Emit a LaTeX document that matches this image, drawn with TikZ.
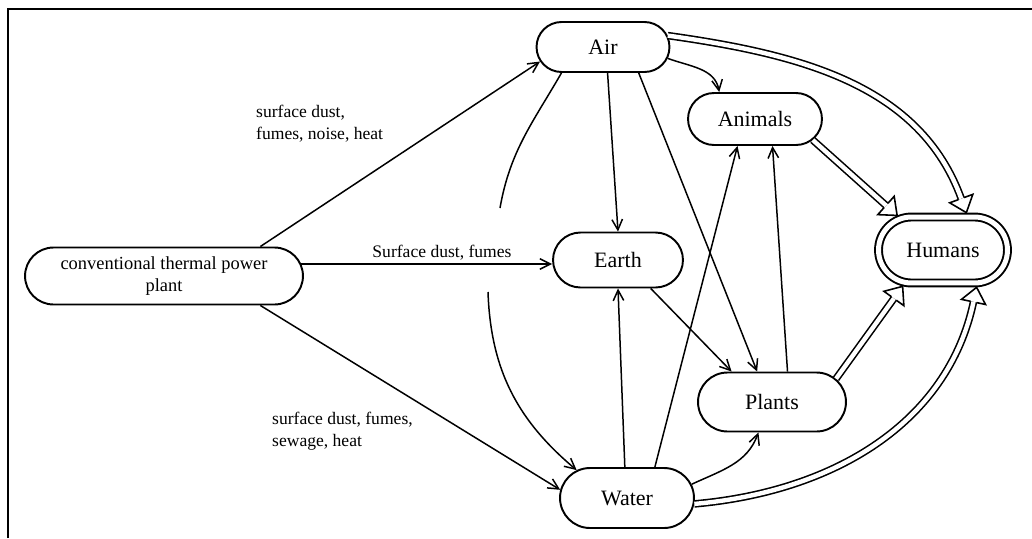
\documentclass[tikz,border=0pt]{standalone}
\usepackage{fontspec}
\setmainfont{Liberation Serif}
\usetikzlibrary{shapes.misc,arrows.meta,decorations.markings}

\begin{document}
\begin{tikzpicture}[x=0.02cm,y=0.02cm,
  box/.style={rounded rectangle,draw,line width=1.1pt,font=\fontsize{12.5}{15}\selectfont,inner sep=2pt},
  lbl/.style={font=\fontsize{10}{12.5}\selectfont,align=left},
  flow/.style={line width=0.85pt,-{Straight Barb[length=6pt,width=6pt]}},
  hollow/.style={double,double distance=2.5pt,line width=0.9pt,shorten >=8.5pt,
    postaction={decorate,decoration={markings,mark=at position 1 with
      {\draw[line width=0.9pt,shorten >=0pt,line join=miter] (-8.5pt,1.7pt) -- (-8.5pt,7pt) -- (0,0) -- (-8.5pt,-7pt) -- (-8.5pt,-1.7pt);}}}}]
\useasboundingbox (0,0) rectangle (1032,-538);
\draw[line width=1.2pt] (8,-538) -- (8,-9) -- (1032,-9);

\node (plant) at (164,-276) [box,align=center,minimum width=5.7cm,minimum height=1.14cm,font=\fontsize{10.5}{12.5}\selectfont] {conventional thermal power\\plant};
\node (air) at (603,-47) [box,minimum width=2.8cm,minimum height=1cm] {Air};
\node (animals) at (755,-119) [box,minimum width=2.82cm,minimum height=1.04cm] {Animals};
\node (earth) at (618,-260) [box,minimum width=2.74cm,minimum height=1.1cm] {Earth};
\node (plants) at (772,-402) [box,minimum width=3.1cm,minimum height=1.18cm] {Plants};
\node (water) at (627,-498) [box,minimum width=2.82cm,minimum height=1.2cm] {Water};
\node (humans) at (943,-250) [box,double,double distance=0.1cm,minimum width=2.72cm,minimum height=1.32cm,outer sep=2.5pt] {Humans};

\node (lblair) at (250,-124) [lbl,anchor=west] {surface dust,\\fumes, noise, heat};
\node (lblearth) at (442,-253) [lbl] {Surface dust, fumes};
\node (lblwater) at (266,-431) [lbl,anchor=west] {surface dust, fumes,\\sewage, heat};

\coordinate (gapA) at (500,-208);
\coordinate (gapB) at (488,-292);

\draw[flow] (plant.17) -- (air.193);
\draw[flow] (plant.5) -- (plant.5 -| earth.west);
\draw[flow] (plant.-17) -- (water.173);
\draw[line width=0.85pt] (air.212) to[out=-120,in=80] (gapA);
\draw[flow] (gapB) to[out=-88,in=140] (water.151);
\draw[flow] (air.-80) -- (earth.north);
\draw[flow] (air.-10) to[out=-20,in=100] (animals.143);
\draw[flow] (air.-36) -- (plants.116);
\draw[flow] (earth.-41) -- (plants.143);
\draw[flow] (water.94) -- (earth.south);
\draw[flow] (water.48) -- (animals.237);
\draw[flow] (plants.63) -- (animals.-57);
\draw[flow] (water.12) to[out=25,in=-110] (plants.246);
\draw[hollow] (air.10) to[out=-8,in=110] (humans.58);
\draw[hollow] (animals.-20) -- (humans.143);
\draw[hollow] (plants.20) -- (humans.222);
\draw[hollow] (water.-5) to[out=5,in=-102] (humans.-48);
\end{tikzpicture}
\end{document}
